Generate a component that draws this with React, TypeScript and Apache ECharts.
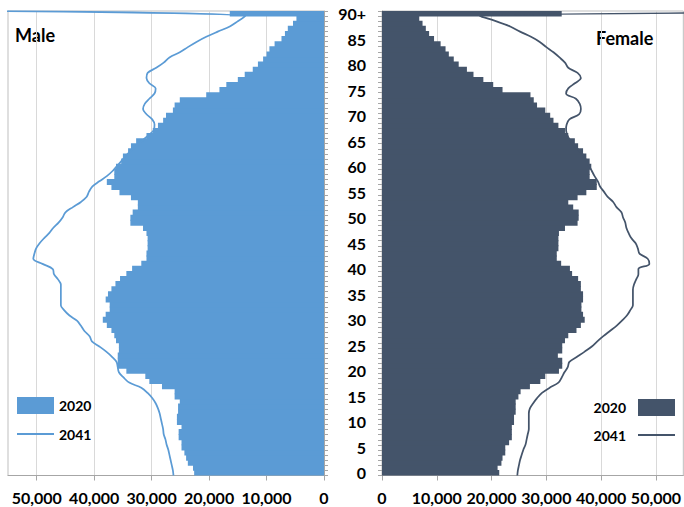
import React, { useEffect, useRef } from "react";
import * as echarts from "echarts";

const ages: string[] = Array.from({ length: 91 }, (_, i) => (i === 90 ? "90+" : String(i)));

const xTickValues = [0, 10000, 20000, 30000, 40000, 50000];

// index = age (0 .. 89, 90+)
const male2020 = [
  22600, 22800, 23700, 24000, 24300, 24800, 24800, 25300, 25300, 24800,
  25600, 25600, 25400, 25400, 25100, 26000, 26000, 28200, 30400, 31100,
  34400, 35900, 35900, 35900, 35700, 35700, 36200, 36500, 37000, 37800,
  38500, 38000, 37300, 37300, 38000, 37600, 37000, 36300, 35500, 34400,
  33400, 31800, 30900, 30900, 30700, 30700, 30700, 30900, 31500, 33700,
  33700, 33300, 32400, 32400, 33600, 35600, 37000, 37800, 36500, 36500,
  36200, 35300, 35000, 34100, 33600, 32700, 30900, 29800, 28900, 28000,
  27500, 26300, 26000, 25100, 20500, 18200, 17000, 15000, 13800, 12400,
  11500, 10600, 10000, 9500, 8600, 7400, 6800, 6300, 5400, 4800,
  16400,
];

const male2041 = [
  26200, 26300, 26500, 26700, 26900, 27100, 27400, 27600, 27900, 28000,
  28200, 28400, 28600, 28900, 29300, 29900, 30700, 31800, 33900, 34900,
  35700, 35900, 36100, 36900, 37900, 39100, 40400, 40800, 41700, 42300,
  43000, 44300, 45200, 45800, 45800, 45800, 45800, 45800, 46300, 47000,
  47200, 49000, 50600, 50400, 50100, 49500, 48700, 47800, 47100, 46200,
  45500, 45000, 43700, 42300, 41300, 40900, 40300, 39100, 37800, 36800,
  36000, 35200, 34500, 33500, 32500, 31500, 30500, 29600, 29500, 29900,
  30900, 31500, 31200, 30400, 29500, 29300, 30400, 30900, 30700, 29200,
  27900, 26900, 25100, 23700, 22200, 20500, 18500, 16400, 15000, 13700,
  57500,
];

const female2020 = [
  21400, 21100, 21800, 22000, 22500, 22500, 23200, 23700, 23700, 23700,
  24100, 24100, 24400, 24400, 24400, 24900, 25300, 27000, 28900, 29800,
  32300, 32900, 32900, 32100, 32900, 32900, 33400, 34000, 35500, 36300,
  37000, 36700, 36400, 36400, 36700, 36700, 36300, 36300, 35800, 34700,
  34300, 32700, 31900, 31900, 32200, 32200, 32200, 32300, 33400, 35700,
  35900, 35900, 34900, 34000, 35700, 37300, 39200, 39200, 37900, 37900,
  38200, 37900, 37300, 36700, 35800, 35200, 34000, 33400, 32200, 31300,
  30700, 29800, 28300, 27700, 27100, 22000, 20300, 18500, 16700, 15500,
  14000, 13100, 12200, 11600, 10700, 9500, 8600, 8000, 7400, 6800,
  32800,
];

const female2041 = [
  24700, 24800, 25000, 25200, 25500, 25800, 26200, 26400, 26600, 26800,
  26800, 26800, 26800, 27000, 27600, 28300, 29200, 30600, 32200, 32800,
  33300, 33900, 34200, 35600, 37000, 38300, 39300, 40400, 41600, 42800,
  43800, 44700, 45300, 45800, 45800, 45800, 45800, 46000, 46400, 46800,
  46800, 48800, 48500, 47000, 46700, 46300, 45500, 45000, 44600, 44400,
  44000, 43700, 42800, 42200, 41200, 40500, 39800, 39400, 38800, 38300,
  37800, 37300, 36800, 36000, 35000, 34300, 33800, 33600, 33700, 34200,
  36000, 36300, 36100, 35400, 33600, 34000, 35200, 36300, 35700, 34000,
  33400, 32400, 31300, 30000, 28800, 27200, 25200, 23400, 20900, 17900,
  140000,
];

const MALE = "#5B9BD5";
const FEMALE = "#44546A";
const AXIS = "#a6a6a6";
const GRID = "#d9d9d9";
const FONT = "Lato";

const fmt = (v: number) => v.toLocaleString("en-US");

function valueAxis(gridIndex: number, inverse: boolean) {
  return {
    gridIndex,
    type: "value",
    inverse,
    min: 0,
    max: 55000,
    interval: 10000,
    axisLine: { show: true, lineStyle: { color: AXIS, width: 1 } },
    axisTick: { show: true, length: 5, customValues: xTickValues, lineStyle: { color: AXIS } },
    axisLabel: {
      customValues: xTickValues,
      formatter: fmt,
      fontFamily: FONT,
      fontWeight: "bold",
      fontSize: 16,
      color: "#000",
      margin: 14,
    },
    splitLine: { show: true, lineStyle: { color: GRID, width: 1 } },
  };
}

export default function App() {
  const ref = useRef<HTMLDivElement>(null);
  useEffect(() => {
    if (!ref.current) return;
    const chart = echarts.init(ref.current, null, { renderer: "svg" });
    const legendText = { fontFamily: FONT, fontWeight: "bold", fontSize: 14, color: "#000" };
    const hiddenSymbol = { opacity: 0, borderWidth: 0 };
    chart.setOption({
      animation: false,
      backgroundColor: "#fff",
      grid: [
        { left: 8, right: 360, top: 11, bottom: 31.5, show: true, borderColor: "#bfbfbf", borderWidth: 1 },
        { left: 382, right: -5, top: 11, bottom: 31.5, show: true, borderColor: "#bfbfbf", borderWidth: 1 },
      ],
      xAxis: [valueAxis(0, true), valueAxis(1, false)],
      yAxis: [
        {
          gridIndex: 0,
          type: "category",
          position: "right",
          data: ages,
          axisLine: { show: true, onZero: false, lineStyle: { color: AXIS } },
          axisTick: { show: true, interval: 0, length: 4, lineStyle: { color: AXIS } },
          axisLabel: { show: false },
          splitLine: { show: false },
        },
        { gridIndex: 0, type: "value", min: 0, max: 90, show: false },
        {
          gridIndex: 1,
          type: "category",
          position: "left",
          data: ages,
          axisLine: { show: true, onZero: false, lineStyle: { color: AXIS } },
          axisTick: { show: true, interval: 0, length: 4, lineStyle: { color: AXIS } },
          axisLabel: {
            interval: 4,
            fontFamily: FONT,
            fontWeight: "bold",
            fontSize: 16,
            color: "#000",
            margin: 16,
          },
          splitLine: { show: false },
        },
        { gridIndex: 1, type: "value", min: 0, max: 90, show: false },
      ],
      legend: [
        {
          data: [
            { name: "M2020", icon: "rect" },
            { name: "M2041", itemStyle: hiddenSymbol },
          ],
          orient: "vertical",
          left: 16,
          top: 397,
          padding: 0,
          itemWidth: 37,
          itemHeight: 17,
          itemGap: 13,
          selectedMode: false,
          formatter: (n: string) => n.slice(1),
          textStyle: legendText,
        },
        {
          data: [
            { name: "F2020", icon: "rect" },
            { name: "F2041", itemStyle: hiddenSymbol },
          ],
          orient: "vertical",
          right: 8,
          top: 399,
          padding: 0,
          align: "right",
          itemWidth: 37,
          itemHeight: 17,
          itemGap: 12,
          selectedMode: false,
          formatter: (n: string) => n.slice(1),
          textStyle: { ...legendText, padding: [0, 7, 0, 0] },
        },
      ],
      graphic: [
        { type: "text", x: 15, y: 35, style: { text: "Male", font: `bold 18px ${FONT}`, fill: "#000", verticalAlign: "middle" } },
        { type: "text", x: 596, y: 38, style: { text: "Female", font: `bold 18px ${FONT}`, fill: "#000", verticalAlign: "middle" } },
      ],
      series: [
        {
          name: "M2020",
          type: "bar",
          xAxisIndex: 0,
          yAxisIndex: 0,
          data: male2020,
          barWidth: 6,
          itemStyle: { color: MALE },
        },
        {
          name: "M2041",
          type: "line",
          xAxisIndex: 0,
          yAxisIndex: 1,
          data: male2041.map((v, i) => [v, i]),
          smooth: 0.35,
          symbol: "none",
          clip: true,
          lineStyle: { color: MALE, width: 1.75 },
          itemStyle: { color: MALE },
          z: 3,
        },
        {
          name: "F2020",
          type: "bar",
          xAxisIndex: 1,
          yAxisIndex: 2,
          data: female2020,
          barWidth: 6,
          itemStyle: { color: FEMALE },
        },
        {
          name: "F2041",
          type: "line",
          xAxisIndex: 1,
          yAxisIndex: 3,
          data: female2041.map((v, i) => [v, i]),
          smooth: 0.35,
          symbol: "none",
          clip: true,
          lineStyle: { color: FEMALE, width: 1.75 },
          itemStyle: { color: FEMALE },
          z: 3,
        },
      ],
    });
    return () => chart.dispose();
  }, []);
  return (
    <div
      ref={ref}
      style={{ position: "absolute", left: 0, top: 0, width: 684, height: 507 }}
    />
  );
}
